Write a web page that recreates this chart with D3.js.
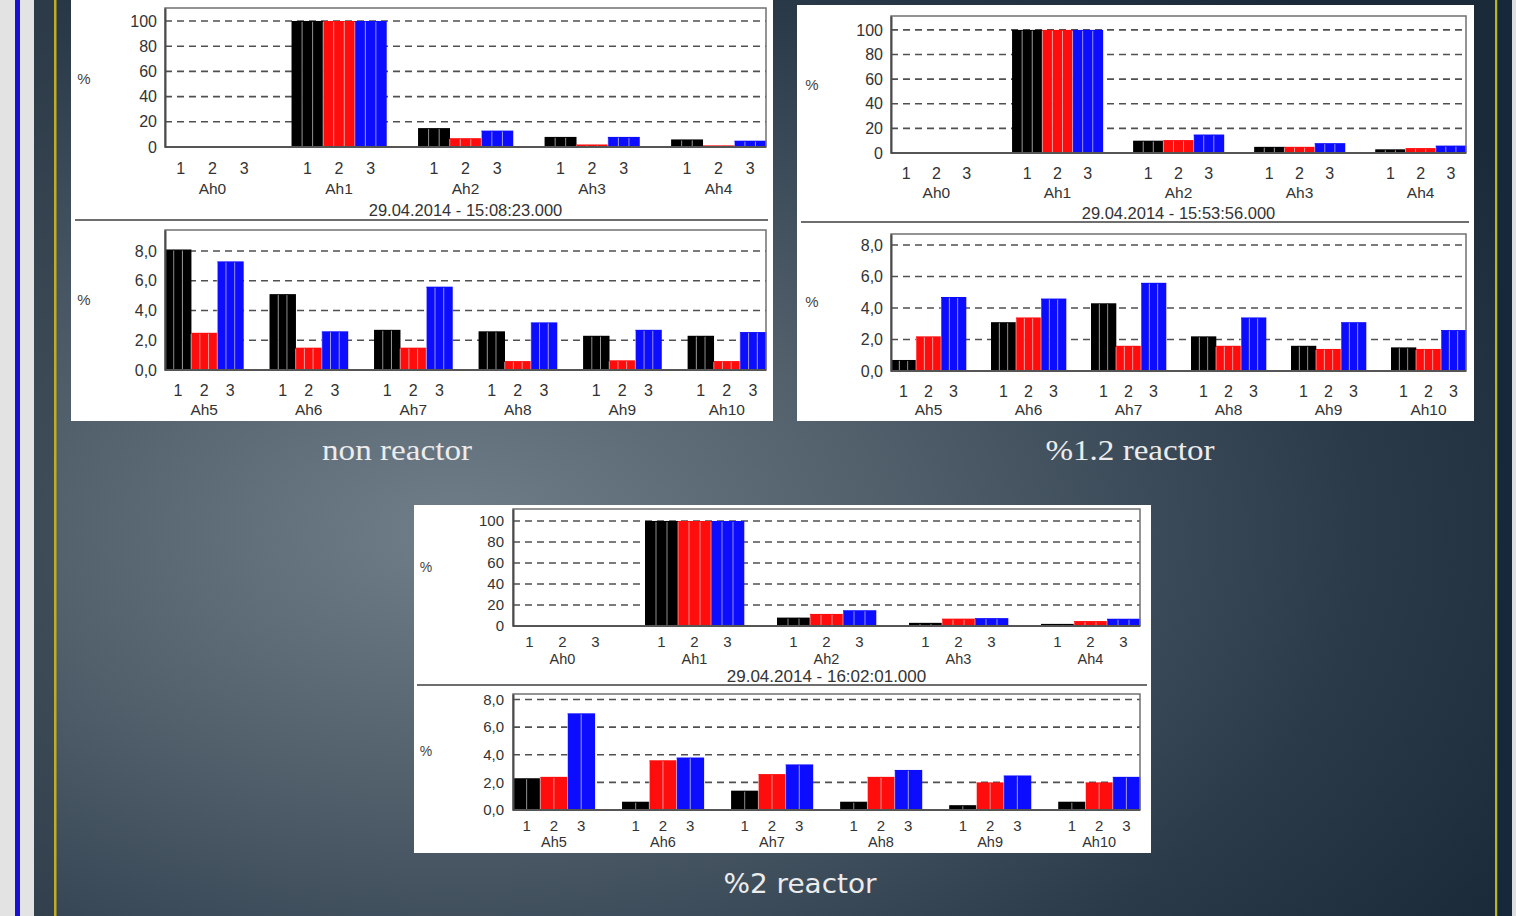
<!DOCTYPE html>
<html><head><meta charset="utf-8">
<script src="https://cdn.jsdelivr.net/npm/d3@7"></script>
<style>html,body{margin:0;padding:0;background:#1d2c3a;overflow:hidden}</style>
</head><body><svg id="c" width="1516" height="916"></svg>
<script>
// Harmonic content (% of fundamental) per phase, three measurements
const topGroups = ["Ah0", "Ah1", "Ah2", "Ah3", "Ah4"];
const bottomGroups = ["Ah5", "Ah6", "Ah7", "Ah8", "Ah9", "Ah10"];
const phases = ["1", "2", "3"];
const topTicks = [0, 20, 40, 60, 80, 100];
const bottomTicks = [0, 2, 4, 6, 8];
const captions = ["non reactor", "%1.2 reactor", "%2 reactor"];
const timestamps = ["29.04.2014 - 15:08:23.000", "29.04.2014 - 15:53:56.000", "29.04.2014 - 16:02:01.000"];

const nonReactorTop = [[0, 0, 0], [100, 100, 100], [15, 7, 13], [8, 2, 8], [6, 1.3, 5]];
const nonReactorBottom = [[8.1, 2.5, 7.3], [5.1, 1.5, 2.6], [2.7, 1.5, 5.6], [2.6, 0.6, 3.2], [2.3, 0.65, 2.7], [2.3, 0.6, 2.55]];
const reactor12Top = [[0, 0, 0], [100, 100, 100], [10, 10.5, 15], [5, 5, 8], [3, 4, 6]];
const reactor12Bottom = [[0.7, 2.2, 4.7], [3.1, 3.4, 4.6], [4.3, 1.6, 5.6], [2.2, 1.6, 3.4], [1.6, 1.4, 3.1], [1.5, 1.4, 2.6]];
const reactor2Top = [[0, 0, 0], [100, 100, 100], [8, 11.5, 15], [3, 7, 7.5], [2, 4.7, 6.9]];
const reactor2Bottom = [[2.3, 2.4, 7.0], [0.6, 3.6, 3.8], [1.4, 2.6, 3.3], [0.6, 2.4, 2.9], [0.35, 2.0, 2.5], [0.6, 2.0, 2.4]];

const phaseColors = ["#000000", "#ff0c0c", "#0c0cff"];
const labelFont = '"Liberation Sans", Arial, sans-serif';

// panel geometry
const layouts = [
  { box: {x: 71, y: 0, w: 702, h: 421}, divider: {y: 220, x1: 75, x2: 768}, dateY: 216, fs: 16, dateFs: 16.5,
    top: {l: 165, r: 766, t: 8, b: 147, yMax: 110.3, labelX: 157, pctX: 84, pctY: 79, phaseDy: 21, groupDy: 42, stripes: 3},
    bottom: {l: 165, r: 766, t: 230, b: 370, yMax: 9.41, labelX: 157, pctX: 84, pctY: 300, phaseDy: 20, groupDy: 40, stripes: 3},
    caption: {x: 397, y: 460, font: '"Liberation Serif", "Times New Roman", serif', size: 30, len: 150} },
  { box: {x: 797, y: 5, w: 677, h: 416}, divider: {y: 222, x1: 801, x2: 1469}, dateY: 219, fs: 16, dateFs: 16.5,
    top: {l: 891, r: 1466, t: 16, b: 153, yMax: 111.3, labelX: 883, pctX: 812, pctY: 85, phaseDy: 20, groupDy: 40, stripes: 3},
    bottom: {l: 891, r: 1466, t: 234, b: 371, yMax: 8.7, labelX: 883, pctX: 812, pctY: 302, phaseDy: 20, groupDy: 39, stripes: 3},
    caption: {x: 1130, y: 460, font: '"Liberation Serif", "Times New Roman", serif', size: 30, len: 169} },
  { box: {x: 414, y: 505, w: 737, h: 348}, divider: {y: 685, x1: 417, x2: 1147}, dateY: 682, fs: 15, dateFs: 17,
    top: {l: 513, r: 1140, t: 509, b: 626, yMax: 111.4, labelX: 504, pctX: 426, pctY: 567, phaseDy: 16, groupDy: 33, stripes: 3},
    bottom: {l: 513, r: 1140, t: 694, b: 810, yMax: 8.4, labelX: 504, pctX: 426, pctY: 751, phaseDy: 16, groupDy: 32, stripes: 2},
    caption: {x: 800, y: 893, font: '"Century Gothic", "DejaVu Sans", sans-serif', size: 27, len: 153} }
];
const panelData = [
  [nonReactorTop, nonReactorBottom],
  [reactor12Top, reactor12Bottom],
  [reactor2Top, reactor2Bottom]
];

const svg = d3.select("#c");
const defs = svg.append("defs");
const bg = defs.append("radialGradient").attr("id", "bg")
  .attr("cx", "0.3").attr("cy", "0.58").attr("r", "0.8").attr("fx", "0.3").attr("fy", "0.58");
bg.append("stop").attr("offset", "0").attr("stop-color", "#707e89");
bg.append("stop").attr("offset", "0.35").attr("stop-color", "#52606c");
bg.append("stop").attr("offset", "0.75").attr("stop-color", "#2a3a49");
bg.append("stop").attr("offset", "1").attr("stop-color", "#1b2a38");

svg.append("rect").attr("width", 1516).attr("height", 916).attr("fill", "url(#bg)");
// slide side borders
svg.append("rect").attr("x", 0).attr("y", 0).attr("width", 34).attr("height", 916).attr("fill", "#e3e3e3");
svg.append("rect").attr("x", 15).attr("y", 0).attr("width", 5).attr("height", 916).attr("fill", "#1a0fd4");
svg.append("rect").attr("x", 34).attr("y", 0).attr("width", 20).attr("height", 916).attr("fill", "#2f3d48").attr("opacity", 0.6);
svg.append("rect").attr("x", 54).attr("y", 0).attr("width", 2.5).attr("height", 916).attr("fill", "#bfae25");
svg.append("rect").attr("x", 1495).attr("y", 0).attr("width", 2.5).attr("height", 916).attr("fill", "#b5b52b");
svg.append("rect").attr("x", 1497.5).attr("y", 0).attr("width", 15).attr("height", 916).attr("fill", "#16283a");
svg.append("rect").attr("x", 1512).attr("y", 0).attr("width", 4).attr("height", 916).attr("fill", "#dedede");

const fmtTop = d3.format("d");
const fmtBottom = d => d3.format(".1f")(d).replace(".", ",");

function drawChart(g, cfg, groups, values, ticks, fmt, fs) {
  const x0 = d3.scaleBand().domain(groups).range([cfg.l, cfg.r]).paddingInner(0.25).paddingOuter(0);
  const x1 = d3.scaleBand().domain(phases).range([0, x0.bandwidth()]);
  const xs = d3.scaleBand().domain(d3.range(cfg.stripes)).range([0, x1.bandwidth()]);
  const y = d3.scaleLinear().domain([0, cfg.yMax]).range([cfg.b, cfg.t]);

  // dashed grid
  g.selectAll(null).data(ticks.filter(t => t > 0)).join("line")
    .attr("x1", cfg.l).attr("x2", cfg.r)
    .attr("y1", d => y(d)).attr("y2", d => y(d))
    .attr("stroke", "#505050").attr("stroke-width", 1.6).attr("stroke-dasharray", "7,5");

  // bars, each split into thin stripes
  const cells = groups.flatMap((gn, i) => phases.map((p, j) => ({g: gn, p, j, v: values[i][j]})));
  const stripes = cells.flatMap(c => d3.range(cfg.stripes).map(s => Object.assign({s}, c))).filter(d => d.v > 0);
  const sx = d => x0(d.g) + x1(d.p) + xs(d.s);
  g.selectAll(null).data(stripes).join("rect")
    .attr("x", sx).attr("width", xs.bandwidth() + 0.3)
    .attr("y", d => y(d.v)).attr("height", d => y(0) - y(d.v))
    .attr("fill", d => phaseColors[d.j]);
  g.selectAll(null).data(stripes.filter(d => d.s > 0 || d.j > 0)).join("line")
    .attr("x1", sx).attr("x2", sx)
    .attr("y1", d => y(d.v) + 1).attr("y2", y(0))
    .attr("stroke", "#ffffff").attr("stroke-opacity", 0.55).attr("stroke-width", 1);

  // frame
  g.append("rect").attr("x", cfg.l).attr("y", cfg.t)
    .attr("width", cfg.r - cfg.l).attr("height", cfg.b - cfg.t)
    .attr("fill", "none").attr("stroke", "#707070").attr("stroke-width", 1.5);
  g.append("line").attr("x1", cfg.l).attr("x2", cfg.r).attr("y1", cfg.b).attr("y2", cfg.b)
    .attr("stroke", "#555").attr("stroke-width", 2);

  // value axis
  const axg = g.append("g").attr("transform", `translate(${cfg.l},0)`)
    .call(d3.axisLeft(y).tickValues(ticks).tickFormat(fmt).tickSize(0).tickPadding(cfg.l - cfg.labelX));
  axg.select(".domain").attr("stroke", "#4a4a4a").attr("stroke-width", 2);
  axg.selectAll("text").attr("font-family", labelFont).attr("font-size", fs).attr("fill", "#333");

  g.append("text").attr("x", cfg.pctX).attr("y", cfg.pctY).attr("dy", "0.35em")
    .attr("text-anchor", "middle").attr("font-family", labelFont).attr("font-size", fs - 1)
    .attr("fill", "#444").text("%");

  // phase numbers and harmonic names
  g.selectAll(null).data(groups.flatMap(gn => phases.map(p => ({g: gn, p})))).join("text")
    .attr("x", d => x0(d.g) + x1(d.p) + x1.bandwidth() / 2)
    .attr("y", cfg.b + cfg.phaseDy).attr("dy", "0.35em").attr("text-anchor", "middle")
    .attr("font-family", labelFont).attr("font-size", fs).attr("fill", "#333").text(d => d.p);
  g.selectAll(null).data(groups).join("text")
    .attr("x", d => x0(d) + x0.bandwidth() / 2)
    .attr("y", cfg.b + cfg.groupDy).attr("dy", "0.35em").attr("text-anchor", "middle")
    .attr("font-family", labelFont).attr("font-size", fs - 0.5).attr("fill", "#333").text(d => d);
}

layouts.forEach((L, k) => {
  const g = svg.append("g");
  g.append("rect").attr("x", L.box.x).attr("y", L.box.y).attr("width", L.box.w).attr("height", L.box.h).attr("fill", "#ffffff");
  g.append("line").attr("x1", L.divider.x1).attr("x2", L.divider.x2).attr("y1", L.divider.y).attr("y2", L.divider.y)
    .attr("stroke", "#6e6e6e").attr("stroke-width", 2);
  drawChart(g, L.top, topGroups, panelData[k][0], topTicks, fmtTop, L.fs);
  drawChart(g, L.bottom, bottomGroups, panelData[k][1], bottomTicks, fmtBottom, L.fs);
  g.append("text").attr("x", (L.top.l + L.top.r) / 2).attr("y", L.dateY)
    .attr("text-anchor", "middle").attr("font-family", labelFont).attr("font-size", L.dateFs)
    .attr("fill", "#333").text(timestamps[k]);
  svg.append("text").attr("x", L.caption.x).attr("y", L.caption.y)
    .attr("text-anchor", "middle").attr("font-family", L.caption.font).attr("font-size", L.caption.size)
    .attr("textLength", L.caption.len).attr("lengthAdjust", "spacingAndGlyphs")
    .attr("fill", "#ececec").text(captions[k]);
});
</script></body></html>
